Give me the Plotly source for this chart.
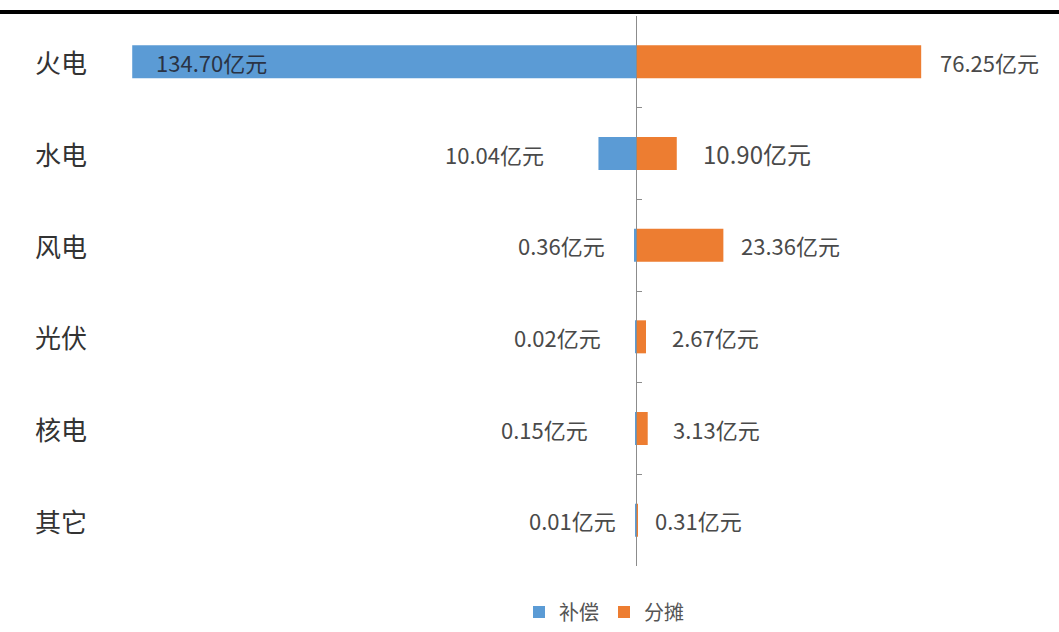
import plotly.graph_objects as go

categories = ["火电", "水电", "风电", "光伏", "核电", "其它"]
compensation = [134.70, 10.04, 0.36, 0.02, 0.15, 0.01]   # 补偿 (left, blue)
allocation = [76.25, 10.90, 23.36, 2.67, 3.13, 0.31]      # 分摊 (right, orange)
series_names = ["补偿", "分摊"]
unit = "亿元"

W, H = 1059, 632
L, R, T, B = 120, 19, 16, 66
pw, ph = W - L - R, H - T - B
scale = 3.74  # px per unit
zero_px = 636
xmin = -(zero_px - L) / scale
xmax = (W - R - zero_px) / scale

BLUE = "#5B9BD5"
ORANGE = "#ED7D31"
FONT = "Noto Sans CJK SC, Noto Sans, sans-serif"

fig = go.Figure()
fig.add_trace(go.Bar(
    y=categories, x=[-v for v in compensation], orientation="h",
    name=series_names[0], marker=dict(color=BLUE, line=dict(width=0)),
    width=0.36, hoverinfo="skip",
))
fig.add_trace(go.Bar(
    y=categories, x=allocation, orientation="h",
    name=series_names[1], marker=dict(color=ORANGE, line=dict(width=0)),
    width=0.36, hoverinfo="skip",
))

ann = []
left_gap = [None, 52, 28, 33, 45, 18]
right_gap = [17, 24, 16, 24, 23, 16]
for i, c in enumerate(categories):
    # category labels
    ann.append(dict(x=(33 - L) / pw, xref="paper", y=c, yref="y", text=c,
                    showarrow=False, xanchor="left", yanchor="middle",
                    font=dict(size=26, color="#333333", family=FONT)))
    # left (compensation) labels
    v = compensation[i]
    if left_gap[i] is None:
        ann.append(dict(x=-v, y=c, xref="x", yref="y", text=f"{v:.2f}{unit}",
                        showarrow=False, xanchor="left", yanchor="middle", xshift=22,
                        font=dict(size=22, color="#2a3344", family=FONT)))
    else:
        ann.append(dict(x=-v, y=c, xref="x", yref="y", text=f"{v:.2f}{unit}",
                        showarrow=False, xanchor="right", yanchor="middle",
                        xshift=-left_gap[i],
                        font=dict(size=22, color="#4a4a4a", family=FONT)))
    # right (allocation) labels
    v = allocation[i]
    ann.append(dict(x=v, y=c, xref="x", yref="y", text=f"{v:.2f}{unit}",
                    showarrow=False, xanchor="left", yanchor="middle",
                    xshift=right_gap[i],
                    font=dict(size=24 if i == 1 else 22, color="#4a4a4a", family=FONT)))

line_y = 1 + (T - 12) / ph
shapes = [dict(type="line", xref="paper", yref="paper",
               x0=-L / pw, x1=(W - L) / pw, y0=line_y, y1=line_y,
               line=dict(color="black", width=4))]

fig.update_layout(
    width=W, height=H,
    margin=dict(l=L, r=R, t=T, b=B),
    paper_bgcolor="white", plot_bgcolor="white",
    barmode="relative",
    showlegend=True,
    legend=dict(orientation="h", xref="container", x=604 / W, xanchor="center",
                yref="container", y=(H - 612) / H, yanchor="middle",
                font=dict(size=20, color="#555555", family=FONT),
                itemwidth=30, traceorder="normal"),
    xaxis=dict(range=[xmin, xmax], visible=False, showgrid=False, zeroline=False),
    yaxis=dict(type="category", autorange="reversed", showgrid=False,
               showline=True, linecolor="#8c8c8c", linewidth=1,
               ticks="inside", tickson="boundaries", ticklen=5,
               tickcolor="#8c8c8c", showticklabels=False,
               anchor="free", position=(0 - xmin) / (xmax - xmin), zeroline=False),
    annotations=ann,
    shapes=shapes,
    font=dict(family=FONT),
)

fig.write_html("out.html")
